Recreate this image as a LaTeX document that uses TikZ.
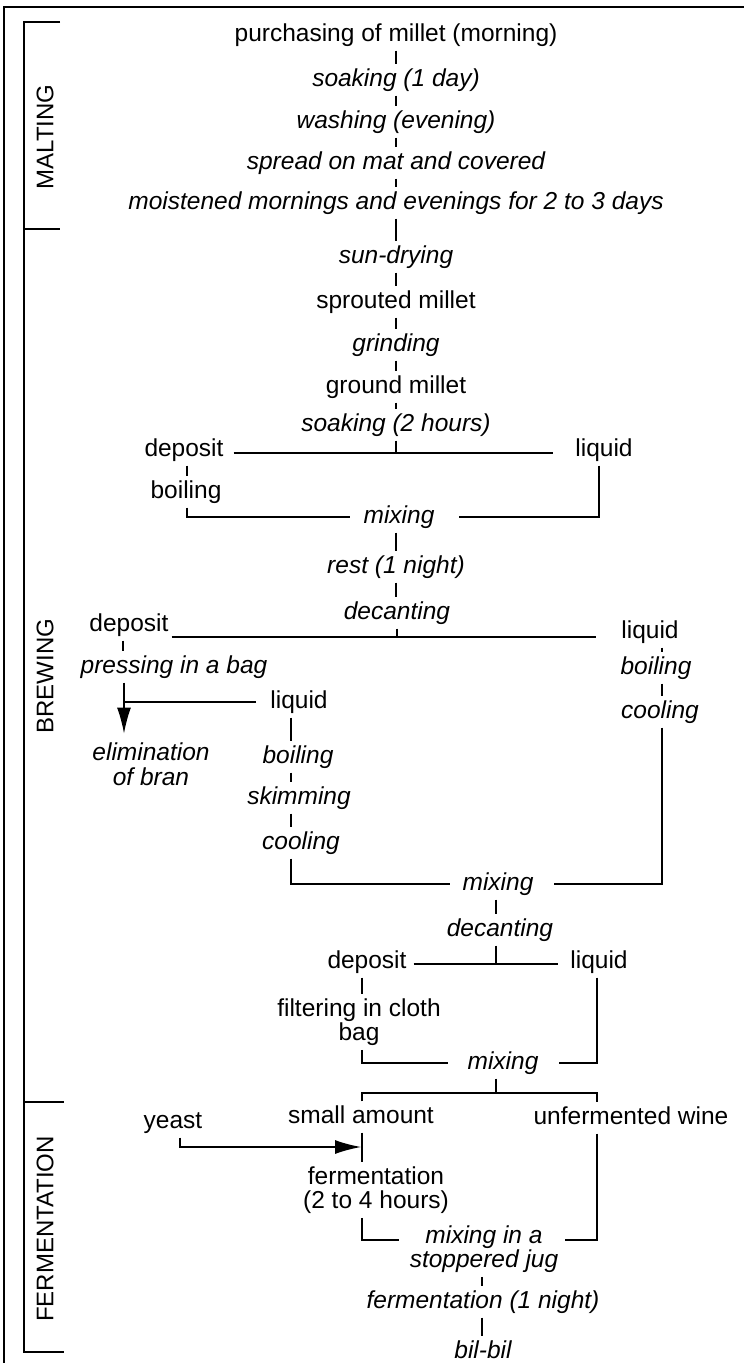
\documentclass[tikz,border=0pt]{standalone}
\usepackage{fontspec}
\setmainfont{Liberation Sans}
\usetikzlibrary{arrows.meta}
\begin{document}
\begin{tikzpicture}[x=1pt,y=-1pt,
  every node/.style={font=\fontsize{24.5}{24.5}\selectfont, inner xsep=3pt, inner ysep=4pt},
  txt/.style={text height=18pt, text depth=5pt},
  itx/.style={txt, font=\fontsize{24.5}{24.5}\selectfont\itshape},
  ml/.style={align=center},
  mli/.style={align=center, font=\fontsize{24.5}{24.5}\selectfont\itshape},
  ln/.style={line width=1.5pt},
  arr/.style={line width=1.5pt, -{Latex[length=26pt,width=14pt]}},
  lab/.style={rotate=90, font=\fontsize{24}{24}\selectfont}
]
\useasboundingbox (0,0) rectangle (744,1363);
\fill[white] (0,0) rectangle (744,1363);

% frame and section brackets
\draw[line width=1.6pt] (4,1363) -- (4,7) -- (744,7);
\draw[ln] (60,22) -- (24,22) -- (24,1352) -- (64,1352);
\draw[ln] (24,229) -- (60,229);
\draw[ln] (24,1102) -- (64,1102);
\node[lab] (mlt) at (45,137) {MALTING};
\node[lab] (brw) at (45,676) {BREWING};
\node[lab] (fer) at (45,1229) {FERMENTATION};

% x positions of connectors
\coordinate (ax) at (396,0);
\coordinate (cA) at (187,0);
\coordinate (cB) at (599,0);
\coordinate (cC) at (123,0);
\coordinate (cD) at (124,0);
\coordinate (cE) at (291,0);
\coordinate (cF) at (662,0);
\coordinate (cG) at (496,0);
\coordinate (cH) at (362,0);
\coordinate (cJ) at (482,0);
\coordinate (cK) at (180,0);
\coordinate (cL) at (597,0);

% nodes
\node[txt] (p1) at (396,35) {purchasing of millet (morning)};
\node[itx] (p2) at (396,80) {soaking (1 day)};
\node[itx] (p3) at (396,122) {washing (evening)};
\node[itx] (p4) at (396,163) {spread on mat and covered};
\node[itx] (p5) at (396,203) {moistened mornings and evenings for 2 to 3 days};
\node[itx] (p6) at (396,257) {sun-drying};
\node[txt] (p7) at (396,302) {sprouted millet};
\node[itx] (p8) at (396,345) {grinding};
\node[txt] (p9) at (396,387) {ground millet};
\node[itx] (p10) at (396,425) {soaking (2 hours)};
\node[txt] (dep1) at (184,450) {deposit};
\node[txt] (liq1) at (604,450) {liquid};
\node[txt] (boil1) at (186,492) {boiling};
\node[itx] (mix1) at (399,517) {mixing};
\node[itx] (rest) at (396,567) {rest (1 night)};
\node[itx] (dec1) at (397,613) {decanting};
\node[txt] (dep2) at (129,625) {deposit};
\node[txt] (liq2r) at (650,632) {liquid};
\node[itx] (press) at (174,667) {pressing in a bag};
\node[itx] (boil2r) at (656,668) {boiling};
\node[itx] (cool2r) at (660,712) {cooling};
\node[txt] (liq2) at (299,702) {liquid};
\node[mli] (elim) at (151,764) {elimination\\of bran};
\node[itx] (boil2) at (298,757) {boiling};
\node[itx] (skim) at (299,798) {skimming};
\node[itx] (cool2) at (301,843) {cooling};
\node[itx] (mix2) at (498,884) {mixing};
\node[itx] (dec2) at (500,930) {decanting};
\node[txt] (dep3) at (367,962) {deposit};
\node[txt] (liq3) at (599,962) {liquid};
\node[ml] (filt) at (359,1022) {filtering in cloth\\bag};
\node[itx] (mix3) at (503,1063) {mixing};
\node[txt] (small) at (361,1117) {small amount};
\node[txt] (unf) at (631,1118) {unfermented wine};
\node[txt] (yeast) at (173,1122) {yeast};
\node[ml] (ferm1) at (376,1190) {fermentation\\(2 to 4 hours)};
\node[mli] (jug) at (484,1249) {mixing in a\\stoppered jug};
\node[itx] (ferm2) at (483,1302) {fermentation (1 night)};
\node[itx] (bil) at (483,1352) {bil-bil};

% junction coordinates
\coordinate (j1) at (396,453);
\coordinate (j2) at (397,637);
\coordinate (j3) at (496,964);
\coordinate (j4) at (496,1093);
\coordinate (ytip) at (361,1147);
\coordinate (jugL) at (399,1240);
\coordinate (jugR) at (565,1240);

% malting / main axis
\draw[ln] (p1.south) -- (p2.north);
\draw[ln] (p2.south) -- (p3.north);
\draw[ln] (p3.south) -- (p4.north);
\draw[ln] (p4.south) -- (p5.north);
\draw[ln] (p5.south) -- (p6.north);
\draw[ln] (p6.south) -- (p7.north);
\draw[ln] (p7.south) -- (p8.north);
\draw[ln] (p8.south) -- (p9.north);
\draw[ln] (p9.south) -- (p10.north);
\draw[ln] (p10.south) -- (j1);
\draw[ln, shorten <=7pt, shorten >=19pt] (dep1.east |- j1) -- (liq1.west |- j1);
\draw[ln] (dep1.south -| cA) -- (boil1.north -| cA);
\draw[ln, shorten >=10pt] (boil1.south -| cA) |- (mix1.west);
\draw[ln, shorten >=21pt] (liq1.south -| cB) |- (mix1.east);
\draw[ln] (mix1.south -| ax) -- (rest.north -| ax);
\draw[ln] (rest.south -| ax) -- (dec1.north -| ax);
\draw[ln] (dec1.south) -- (j2);
\draw[ln, shorten >=22pt] (dep2.east |- j2) -- (liq2r.west |- j2);

% left branch
\draw[ln] (dep2.south -| cC) -- (press.north -| cC);
\draw[arr, shorten >=5pt] (press.south -| cD) -- (elim.north -| cD);
\draw[ln, shorten <=11pt] (liq2.west) -- (liq2.west -| cD);
\draw[ln] (liq2.south -| cE) -- (boil2.north -| cE);
\draw[ln] (boil2.south -| cE) -- (skim.north -| cE);
\draw[ln] (skim.south -| cE) -- (cool2.north -| cE);
\draw[ln, shorten >=9pt] (cool2.south -| cE) |- (mix2.west);

% right branch
\draw[ln] (liq2r.south -| cF) -- (boil2r.north -| cF);
\draw[ln] (boil2r.south -| cF) -- (cool2r.north -| cF);
\draw[ln, shorten >=17pt] (cool2r.south -| cF) |- (mix2.east);

% second decanting
\draw[ln] (mix2.south -| cG) -- (dec2.north -| cG);
\draw[ln] (dec2.south -| cG) -- (j3);
\draw[ln, shorten <=4pt, shorten >=9pt] (dep3.east |- j3) -- (liq3.west |- j3);
\draw[ln] (dep3.south -| cH) -- (filt.north -| cH);
\draw[ln, shorten >=16pt] (filt.south -| cH) |- (mix3.west);
\draw[ln, shorten >=17pt] (liq3.south -| cL) |- (mix3.east);
\draw[ln] (mix3.south -| cG) -- (j4);
\draw[ln] (small.north -| cH) -- (cH |- j4) -- (cL |- j4) -- (unf.north -| cL);

% fermentation
\draw[arr] (yeast.south -| cK) |- (ytip);
\draw[ln] (small.south -| cH) -- (ferm1.north -| cH);
\draw[ln] (ferm1.south -| cH) |- (jugL);
\draw[ln] (unf.south -| cL) |- (jugR);
\draw[ln] (jug.south -| cJ) -- (ferm2.north -| cJ);
\draw[ln] (ferm2.south -| cJ) -- (bil.north -| cJ);
\end{tikzpicture}
\end{document}
